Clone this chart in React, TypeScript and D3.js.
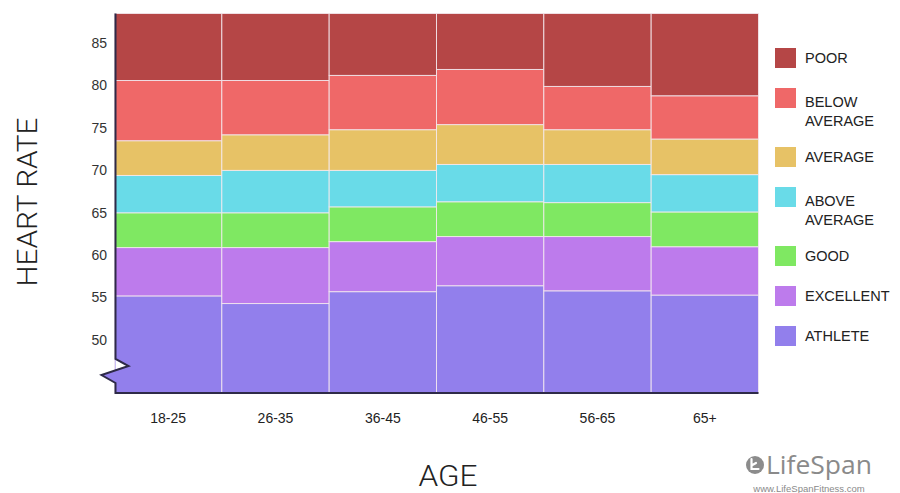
import React from "react";
import * as d3 from "d3";

// ---- data ----
const categories = ["18-25", "26-35", "36-45", "46-55", "56-65", "65+"];
const levels = ["ATHLETE", "EXCELLENT", "GOOD", "ABOVE AVERAGE", "AVERAGE", "BELOW AVERAGE", "POOR"];
const levelColors = ["#927fec", "#bd7bec", "#7fe862", "#69dbe8", "#e7c266", "#ef6868", "#b54646"];
// upper bound (heart rate) of each zone per age group
const athleteTop = [55.2, 54.3, 55.7, 56.4, 55.8, 55.3];
const excellentTop = [60.9, 60.9, 61.6, 62.2, 62.2, 61.0];
const goodTop = [65.0, 65.0, 65.7, 66.3, 66.2, 65.1];
const aboveAverageTop = [69.4, 70.0, 70.0, 70.7, 70.7, 69.5];
const averageTop = [73.5, 74.2, 74.8, 75.4, 74.8, 73.7];
const belowAverageTop = [80.6, 80.6, 81.2, 81.9, 79.9, 78.8];
const poorTop = [88.5, 88.5, 88.5, 88.5, 88.5, 88.5];
const yMin = 43.75;
const yMax = 88.5;
const yTicks = [50, 55, 60, 65, 70, 75, 80, 85];
const legendOrder = ["POOR", "BELOW AVERAGE", "AVERAGE", "ABOVE AVERAGE", "GOOD", "EXCELLENT", "ATHLETE"];

const seriesTops = [athleteTop, excellentTop, goodTop, aboveAverageTop, averageTop, belowAverageTop, poorTop];

export default function App() {
  const W = 900;
  const H = 493;
  const left = 114.5;
  const right = 758.5;
  const top = 13.5;
  const bottom = 393;

  const x = d3.scaleBand<string>().domain(categories).range([left, right]).padding(0);
  const y = d3.scaleLinear().domain([yMin, yMax]).range([bottom, top]);

  const cells: { key: string; x: number; y: number; w: number; h: number; fill: string }[] = [];
  categories.forEach((c, ci) => {
    levels.forEach((lv, li) => {
      const lo = li === 0 ? yMin : seriesTops[li - 1][ci];
      const hi = seriesTops[li][ci];
      cells.push({
        key: c + lv,
        x: x(c)!,
        y: y(hi),
        w: x.bandwidth(),
        h: y(lo) - y(hi),
        fill: levelColors[li],
      });
    });
  });

  // axis break (zigzag) geometry relative to axis
  const bx = left + 1;
  const b0 = bottom - 34;
  const zig = [
    [bx, top],
    [bx, b0],
    [bx + 13, b0 + 7],
    [bx - 14, b0 + 16],
    [bx, b0 + 24],
    [bx, bottom],
    [right, bottom],
  ];
  const axisPath = d3.line()(zig as [number, number][])!;
  const notchWhite = d3.line()([
    [bx, b0],
    [bx + 13, b0 + 7],
    [bx, b0 + 10.5],
  ] as [number, number][])! + "Z";
  const notchPurple = d3.line()([
    [bx + 1, b0 + 10.5],
    [bx - 14, b0 + 16],
    [bx + 1, b0 + 24],
  ] as [number, number][])! + "Z";

  // legend layout
  let ly = 48;
  const legendItems = legendOrder.map((name) => {
    const li = levels.indexOf(name);
    const lines = name.includes(" ") ? name.split(" ") : [name];
    const item = { name, lines, y: ly, color: levelColors[li] };
    ly += 40 + (lines.length - 1) * 19;
    return item;
  });

  const font = "'Liberation Sans', Arial, Helvetica, sans-serif";

  return (
    <svg
      width={W}
      height={H}
      viewBox={`0 0 ${W} ${H}`}
      style={{ position: "absolute", left: 0, top: 0, background: "#fff" }}
    >
      <rect x={0} y={0} width={W} height={H} fill="#fff" />
      <g>
        {cells.map((d) => (
          <rect
            key={d.key}
            x={d.x}
            y={d.y}
            width={d.w}
            height={d.h}
            fill={d.fill}
            stroke="#f3e9ee"
            strokeOpacity={0.85}
            strokeWidth={1}
          />
        ))}
      </g>
      <path d={notchWhite} fill="#fff" />
      <path d={notchPurple} fill={levelColors[0]} />
      <path d={axisPath} fill="none" stroke="#2e2a48" strokeWidth={2} strokeLinejoin="miter" />

      {/* y tick labels */}
      <g fontFamily={font} fontSize={14} fill="#333">
        {yTicks.map((t) => (
          <text key={t} x={107} y={y(t)} dy="0.35em" textAnchor="end">
            {t}
          </text>
        ))}
      </g>

      {/* x tick labels */}
      <g fontFamily={font} fontSize={14} fill="#222">
        {categories.map((c) => (
          <text key={c} x={x(c)! + x.bandwidth() / 2} y={423} textAnchor="middle">
            {c}
          </text>
        ))}
      </g>

      {/* axis titles */}
      <text
        transform={`translate(37,202) rotate(-90)`}
        textAnchor="middle"
        fontFamily="Roboto, 'Liberation Sans', sans-serif"
        fontWeight={300}
        fontSize={28}
        fill="#222"
        textLength={169}
        lengthAdjust="spacingAndGlyphs"
      >
        HEART RATE
      </text>
      <text
        x={448}
        y={485.5}
        textAnchor="middle"
        fontFamily="Roboto, 'Liberation Sans', sans-serif"
        fontWeight={300}
        fontSize={29}
        fill="#222"
        textLength={59}
        lengthAdjust="spacingAndGlyphs"
      >
        AGE
      </text>

      {/* legend */}
      <g fontFamily={font} fontSize={14.5} fill="#222">
        {legendItems.map((it) => (
          <g key={it.name}>
            <rect x={775} y={it.y} width={21} height={20} fill={it.color} />
            {it.lines.map((ln, i) => (
              <text key={ln} x={805} y={it.y + 10 + (it.lines.length > 1 ? 4 : 0) + i * 19} dy="0.35em">
                {ln}
              </text>
            ))}
          </g>
        ))}
      </g>

      {/* logo */}
      <g>
        <circle cx={755} cy={465} r={9} fill="#8c8c8c" />
        <path
          d="M751.5,459 V469 H758.5 M751.5,465.5 L756,463"
          fill="none"
          stroke="#fff"
          strokeWidth={2.2}
          strokeLinecap="round"
        />
        <text
          x={766}
          y={474}
          fontFamily="'Open Sans', 'DejaVu Sans', sans-serif"
          fontSize={26}
          fill="#8a8a8a"
          textLength={106}
          lengthAdjust="spacingAndGlyphs"
        >
          LifeSpan
        </text>
        <text
          x={809}
          y={491.5}
          textAnchor="middle"
          fontFamily={font}
          fontSize={9.5}
          fill="#8a8a8a"
        >
          www.LifeSpanFitness.com
        </text>
      </g>
    </svg>
  );
}
